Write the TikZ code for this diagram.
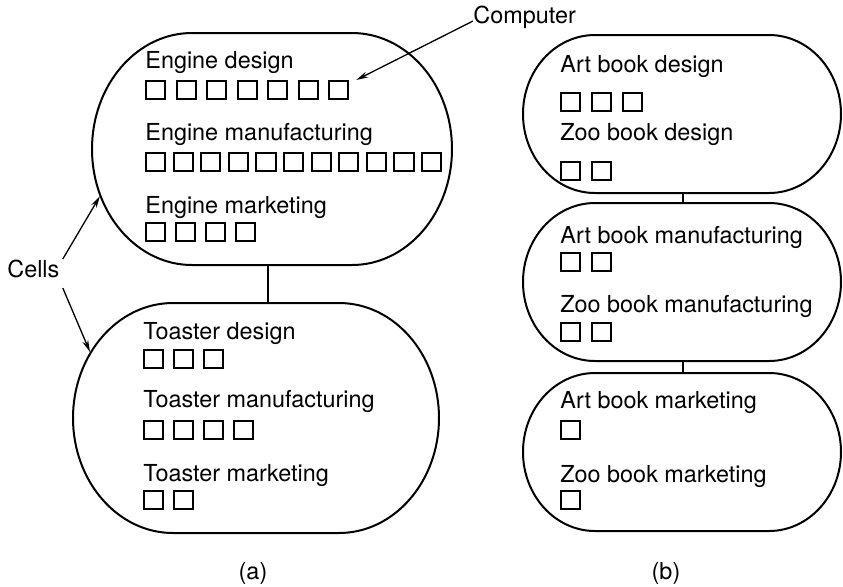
\documentclass[tikz,border=0pt]{standalone}
\usepackage{fontspec}
\setmainfont{TeX Gyre Heros}
\usetikzlibrary{arrows.meta,calc}
\tikzset{
  lbl/.style={anchor=base west, inner sep=0pt, font=\fontsize{11.7}{14}\selectfont},
  captext/.style={anchor=center, inner sep=0pt, font=\fontsize{11.7}{14}\selectfont},
  sqbox/.style={draw, anchor=north west, inner sep=0pt, minimum width=9.6pt, minimum height=9.2pt, line width=1pt},
  cellline/.style={line width=1pt},
  link/.style={line width=1pt},
  arr/.style={line width=0.65pt, -{Stealth[length=6pt,width=3pt]}},
}
% #1 x1, #2 y1 (top), #3 x2, #4 y2 (bottom), #5 rx
\newcommand\cellshape[5]{%
  \draw[cellline] ({#1+#5},#2) -- ({#3-#5},#2)
    arc[start angle=-90, end angle=90, x radius=#5, y radius={(#4-#2)/2}]
    -- ({#1+#5},#4)
    arc[start angle=90, end angle=270, x radius=#5, y radius={(#4-#2)/2}]
    -- cycle;}
% #1 name, #2 x, #3 ytop, #4 count, #5 pitch
\newcommand\sqrow[5]{%
  \foreach \i in {1,...,#4} {\node[sqbox] (#1-\i) at ({#2+(\i-1)*#5},#3) {};}}
\begin{document}
\begin{tikzpicture}[x=0.5pt,y=-0.5pt]
\useasboundingbox (0,0) rectangle (843,586);

% ---------- (a) ----------
\cellshape{92}{33}{452}{265}{100}
\cellshape{73}{303}{439}{533}{100}

\node[lbl] (ed) at (145,68) {Engine design};
\sqrow{eds}{145}{80}{7}{30.5}
\node[lbl] (em) at (145,140) {Engine manufacturing};
\sqrow{ems}{145}{152}{11}{27.6}
\node[lbl] (ek) at (145,213) {Engine marketing};
\sqrow{eks}{145}{222}{4}{30}

\node[lbl] (td) at (143,339) {Toaster design};
\sqrow{tds}{143}{349}{3}{30}
\node[lbl] (tm) at (143,407) {Toaster manufacturing};
\sqrow{tms}{143}{420}{4}{30}
\node[lbl] (tk) at (143,481) {Toaster marketing};
\sqrow{tks}{143}{490}{2}{30}

\coordinate (a1b) at (268,265);
\coordinate (a2t) at (268,303);
\draw[link] (a1b) -- (a2t);

\node[lbl] (comp) at (473,23) {Computer};
\draw[arr] ([yshift=1pt]comp.base west) -- ([xshift=3.5pt]eds-7.north east);

\node[lbl] (cells) at (7,277) {Cells};
\coordinate (tipA) at (100,196);
\coordinate (tipB) at (90,352);
\draw[arr] ([shift={(3,-18)}]cells.base east) -- (tipA);
\draw[arr] ([shift={(3,11)}]cells.base east) -- (tipB);

\node[captext] (capa) at (253,573) {(a)};

% ---------- (b) ----------
\cellshape{523}{35}{841}{193}{72}
\cellshape{523}{203}{841}{361}{72}
\cellshape{523}{373}{841}{531}{72}

\node[lbl] (ad) at (560,72) {Art book design};
\sqrow{ads}{560}{92}{3}{31}
\node[lbl] (zd) at (560,140) {Zoo book design};
\sqrow{zds}{560}{161}{2}{31}

\node[lbl] (am) at (560,243) {Art book manufacturing};
\sqrow{ams}{560}{252}{2}{31}
\node[lbl] (zm) at (560,312) {Zoo book manufacturing};
\sqrow{zms}{560}{322}{2}{31}

\node[lbl] (ak) at (560,408) {Art book marketing};
\sqrow{aks}{560}{420}{1}{31}
\node[lbl] (zk) at (560,482) {Zoo book marketing};
\sqrow{zks}{560}{490}{1}{31}

\coordinate (b1b) at (683,193);
\coordinate (b2t) at (683,203);
\coordinate (b2b) at (683,361);
\coordinate (b3t) at (683,373);
\draw[link] (b1b) -- (b2t);
\draw[link] (b2b) -- (b3t);

\node[captext] (capb) at (666,573) {(b)};
\end{tikzpicture}
\end{document}
